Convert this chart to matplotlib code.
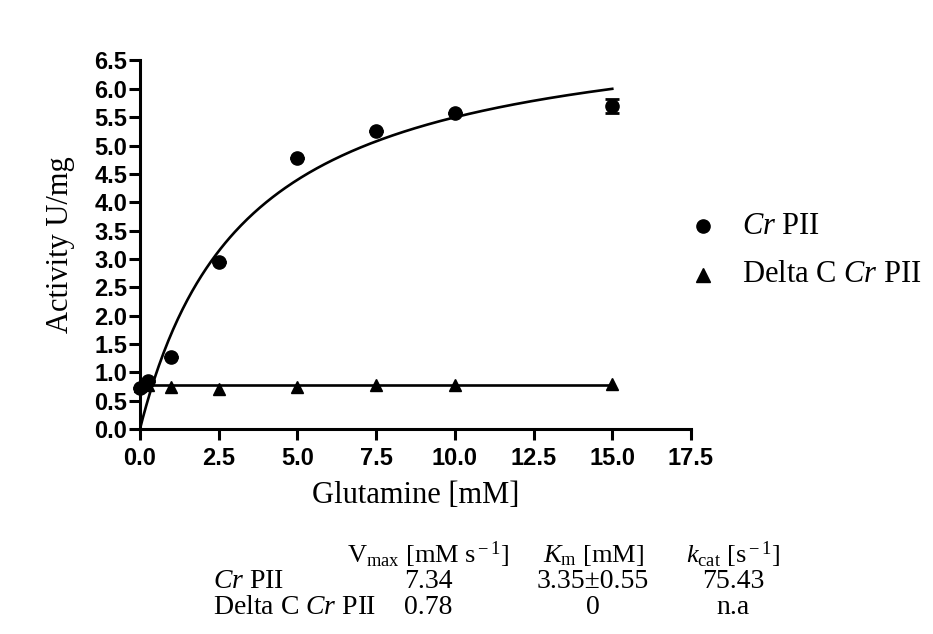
import numpy as np
import matplotlib
matplotlib.use('Agg')
import matplotlib.pyplot as plt
from matplotlib.lines import Line2D

plt.rcParams['mathtext.fontset'] = 'custom'
plt.rcParams['mathtext.rm'] = 'Liberation Serif'
plt.rcParams['mathtext.it'] = 'Liberation Serif:italic'

# Cr PII measurements
glut_cr = [0, 0.25, 1, 2.5, 5, 7.5, 10, 15]
act_cr = [0.73, 0.85, 1.27, 2.95, 4.78, 5.26, 5.57, 5.70]
err_cr = [0, 0, 0, 0, 0, 0, 0, 0.12]

# Delta C Cr PII measurements
glut_dc = [0, 0.25, 1, 2.5, 5, 7.5, 10, 15]
act_dc = [0.76, 0.77, 0.74, 0.71, 0.75, 0.77, 0.77, 0.80]

# fitted kinetic parameters (from the table)
vmax_cr, km_cr = 7.34, 3.35
vmax_dc = 0.78

row_labels = [r'$\it{Cr}$ PII', r'Delta C $\it{Cr}$ PII']
col_labels = [r'V$_{\rm max}$ [mM s$^{\rm -1}$]', r'$K_{\rm m}$ [mM]', r'$k_{\rm cat}$ [s$^{\rm -1}$]']
cells = [['7.34', '3.35\u00b10.55', '75.43'],
         ['0.78', '0', 'n.a']]

fig = plt.figure(figsize=(9.33, 6.34), dpi=100)
ax = fig.add_axes([0.150, 0.3233, 0.5906, 0.5813])

xs = np.linspace(0, 15, 300)
ax.plot(xs, vmax_cr * xs / (km_cr + xs), color='black', lw=1.9, zorder=2)
ax.plot([0, 15], [vmax_dc, vmax_dc], color='black', lw=1.9, zorder=2)

ax.errorbar(glut_cr, act_cr, yerr=err_cr, fmt='o', color='black', ms=9.5,
            capsize=5, capthick=2, elinewidth=2, zorder=3, clip_on=False)
ax.plot(glut_dc, act_dc, '^', color='black', ms=9, zorder=3, clip_on=False)

ax.set_xlim(0, 17.5)
ax.set_ylim(0, 6.5)
ax.set_xticks(np.arange(0, 17.6, 2.5))
ax.set_yticks(np.arange(0, 6.6, 0.5))
ax.xaxis.set_major_formatter(matplotlib.ticker.FormatStrFormatter('%.1f'))
ax.yaxis.set_major_formatter(matplotlib.ticker.FormatStrFormatter('%.1f'))
for s in ['top', 'right']:
    ax.spines[s].set_visible(False)
for s in ['left', 'bottom']:
    ax.spines[s].set_linewidth(2.2)
ax.tick_params(width=2.2, length=8, direction='out')
ax.tick_params(axis='x', pad=5)
ax.tick_params(axis='y', pad=1)
for lab in ax.get_xticklabels() + ax.get_yticklabels():
    lab.set_fontfamily('Liberation Sans')
    lab.set_fontweight('bold')
    lab.set_fontsize(17)

ax.set_xlabel('Glutamine [mM]', fontfamily='Liberation Serif', fontsize=22, labelpad=8)
ax.set_ylabel('Activity U/mg', fontfamily='Liberation Serif', fontsize=22, labelpad=14)

# legend to the right of the plot
leg_marks = ['o', '^']
leg_y = [1 - 226 / 634, 1 - 275 / 634]
for mk, ly, lab in zip(leg_marks, leg_y, row_labels):
    fig.add_artist(Line2D([703 / 933], [ly], ls='none', marker=mk, color='black', ms=9.5,
                          transform=fig.transFigure))
    fig.text(742 / 933, ly, lab, ha='left', va='center', fontfamily='Liberation Serif', fontsize=22)

# kinetic parameter table
col_x = [428 / 933, 593 / 933, 733 / 933]
row_y = [1 - 582 / 634, 1 - 608 / 634]
head_y = 1 - 555 / 634
for cx, cl in zip(col_x, col_labels):
    fig.text(cx, head_y, cl, ha='center', va='center', fontfamily='Liberation Serif', fontsize=19)
for ry, rl, vals in zip(row_y, row_labels, cells):
    fig.text(213 / 933, ry, rl, ha='left', va='center', fontfamily='Liberation Serif', fontsize=20)
    for cx, v in zip(col_x, vals):
        fig.text(cx, ry, v, ha='center', va='center', fontfamily='Liberation Serif', fontsize=20)

fig.savefig('out.png', dpi=100)
